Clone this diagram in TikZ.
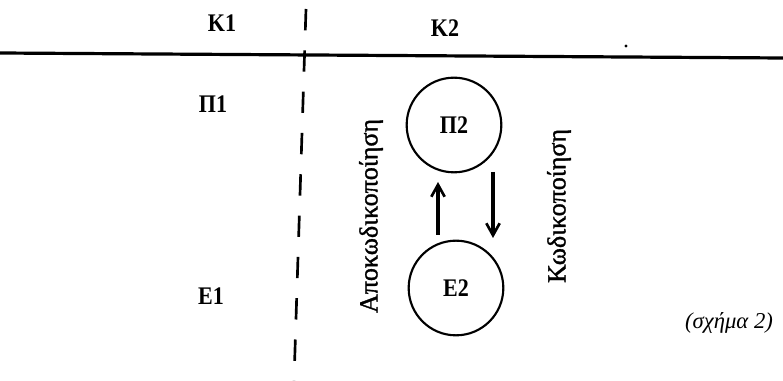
\documentclass[tikz,border=0pt]{standalone}
\usepackage{fontspec}
\setmainfont{Liberation Serif}
\newfontfamily\labfont[FakeStretch=0.87]{Liberation Serif}
\newfontfamily\rotfont[FakeBold=1.2]{Liberation Serif}
\usetikzlibrary{arrows.meta}
\begin{document}
\begin{tikzpicture}[x=0.75pt,y=-0.75pt,
  lbl/.style={inner sep=0pt,font=\labfont\fontsize{19}{22}\selectfont\bfseries},
  circ/.style={draw,circle,line width=1.6pt,inner sep=0pt,minimum size=71pt,font=\labfont\fontsize{19}{22}\selectfont\bfseries},
  rotlbl/.style={inner sep=0pt,rotate=90,font=\rotfont\fontsize{19.5}{22}\selectfont},
  flow/.style={line width=2.3pt,-{Straight Barb[length=9pt,width=10pt,line width=2pt]}},
  sep/.style={line width=2.4pt},
  dashsep/.style={line width=2pt,dash pattern=on 16pt off 15pt}]
\useasboundingbox (0,0) rectangle (783,381);
% labels
\node[lbl] (K1) at (222,23) {Κ1};
\node[lbl] (K2) at (445,28) {Κ2};
\node[lbl] (P1) at (213,104) {Π1};
\node[lbl] (E1) at (211,296) {Ε1};
% separators
\coordinate (hl) at (0,53);
\coordinate (hr) at (783,58);
\draw[sep] (hl) -- (hr);
\coordinate (vt) at (306,9);
\coordinate (vb) at (294,381);
\draw[dashsep] (vt) -- (vb);
% circles
\node[circ] (P2) at (454,125) {Π2};
\node[circ] (E2) at (456,288) {Ε2};
% arrows
\coordinate (u1) at (438,235);
\coordinate (u2) at (438,182);
\coordinate (d1) at (493,172);
\coordinate (d2) at (493,238);
\draw[flow] (u1) -- (u2);
\draw[flow] (d1) -- (d2);
% rotated texts
\node[rotlbl] (dec) at (371,216) {Αποκωδικοποίηση};
\node[rotlbl] (enc) at (559,206) {Κωδικοποίηση};
% caption
\node[inner sep=0pt,font=\fontsize{17}{20}\selectfont\itshape] (cap) at (729,323) {(σχήμα 2)};
% speck
\fill (626,46) circle (1.3pt);
\end{tikzpicture}
\end{document}
